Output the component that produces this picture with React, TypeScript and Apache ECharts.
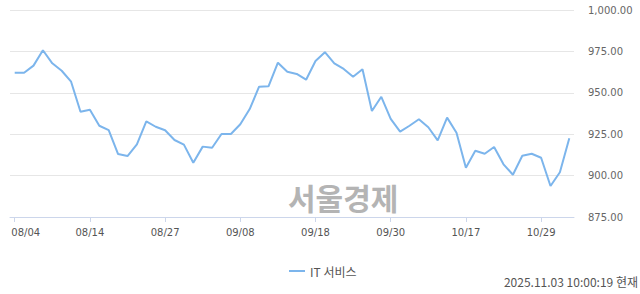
import React, { useEffect, useRef } from "react";
import * as echarts from "echarts";

const dates = [
  "08/04","08/05","08/06","08/07","08/08","08/11","08/12","08/13","08/14","08/18",
  "08/19","08/20","08/21","08/22","08/25","08/26","08/27","08/28","08/29","09/01",
  "09/02","09/03","09/04","09/05","09/08","09/09","09/10","09/11","09/12","09/15",
  "09/16","09/17","09/18","09/19","09/22","09/23","09/24","09/25","09/26","09/29",
  "09/30","10/01","10/02","10/10","10/13","10/14","10/15","10/16","10/17","10/20",
  "10/21","10/22","10/23","10/24","10/27","10/28","10/29","10/30","10/31","11/03",
];

const itService = [
  962.1, 962.1, 966.4, 975.7, 967.8, 963.3, 956.7, 938.6, 939.8, 930.1,
  927.5, 913.0, 911.8, 918.9, 932.8, 929.5, 927.4, 921.5, 918.7, 907.8,
  917.5, 916.8, 925.1, 925.1, 931.0, 940.2, 953.7, 953.9, 968.2, 962.7,
  961.4, 957.9, 969.2, 974.5, 967.8, 964.4, 959.7, 964.2, 939.0, 947.6,
  934.2, 926.5, 930.1, 934.0, 929.2, 921.3, 935.0, 925.9, 904.8, 915.0,
  913.2, 917.3, 906.8, 900.5, 912.0, 913.2, 910.8, 893.7, 902.0, 922.5,
];

const seriesName = "IT 서비스";
const watermark = "서울경제";
const timestamp = "2025.11.03 10:00:19 현재";

const numFont = "'DejaVu Sans', sans-serif";
const krFont = "'Noto Sans CJK KR', sans-serif";

export default function App() {
  const ref = useRef<HTMLDivElement>(null);
  useEffect(() => {
    if (!ref.current) return;
    const chart = echarts.init(ref.current, undefined, { renderer: "svg" });
    chart.setOption({
      animation: false,
      backgroundColor: "#ffffff",
      grid: { left: 10, right: 66, top: 10, bottom: 77, containLabel: false },
      xAxis: {
        type: "category",
        data: dates,
        boundaryGap: true,
        axisLine: { lineStyle: { color: "#ccd6eb", width: 1 } },
        axisTick: {
          show: true,
          alignWithLabel: true,
          interval: 7,
          length: 5,
          lineStyle: { color: "#ccd6eb" },
        },
        axisLabel: {
          interval: 7,
          color: "#555555",
          fontFamily: numFont,
          fontSize: 10,
          margin: 10,
          formatter: (v: string, i: number) => (i === 0 ? `{f|${v}}` : v),
          rich: {
            f: {
              color: "#555555",
              fontFamily: numFont,
              fontSize: 10,
              padding: [0, 0, 0, 22],
            },
          },
        },
        splitLine: { show: false },
      },
      yAxis: {
        type: "value",
        position: "right",
        min: 875,
        max: 1000,
        interval: 25,
        axisLine: { show: false },
        axisTick: { show: false },
        axisLabel: {
          color: "#666666",
          fontFamily: numFont,
          fontSize: 10,
          margin: 14,
          formatter: (v: number) =>
            v.toLocaleString("en-US", { minimumFractionDigits: 2, maximumFractionDigits: 2 }),
        },
        splitLine: { lineStyle: { color: "#e6e6e6", width: 1 } },
      },
      legend: {
        data: [{ name: seriesName, icon: "rect" }],
        left: 284,
        top: 260,
        itemWidth: 16,
        itemHeight: 2,
        itemGap: 6,
        textStyle: { color: "#555555", fontFamily: krFont, fontSize: 12 },
      },
      graphic: [
        {
          type: "text",
          left: 288,
          top: 182,
          z: -1,
          silent: true,
          style: {
            text: watermark,
            fill: "#b4b4b4",
            font: "bold 30px 'Noto Sans CJK KR', sans-serif",
          },
        },
        {
          type: "text",
          right: 2,
          top: 275,
          style: {
            text: timestamp,
            fill: "#555555",
            font: "12px 'Noto Sans CJK KR', sans-serif",
          },
        },
      ],
      series: [
        {
          name: seriesName,
          type: "line",
          data: itService,
          showSymbol: false,
          symbol: "none",
          lineStyle: { color: "#7cb5ec", width: 2 },
          itemStyle: { color: "#7cb5ec" },
          z: 3,
        },
      ],
    });
    return () => chart.dispose();
  }, []);
  return <div ref={ref} style={{ width: 640, height: 294, position: "absolute", left: 0, top: 0 }} />;
}
